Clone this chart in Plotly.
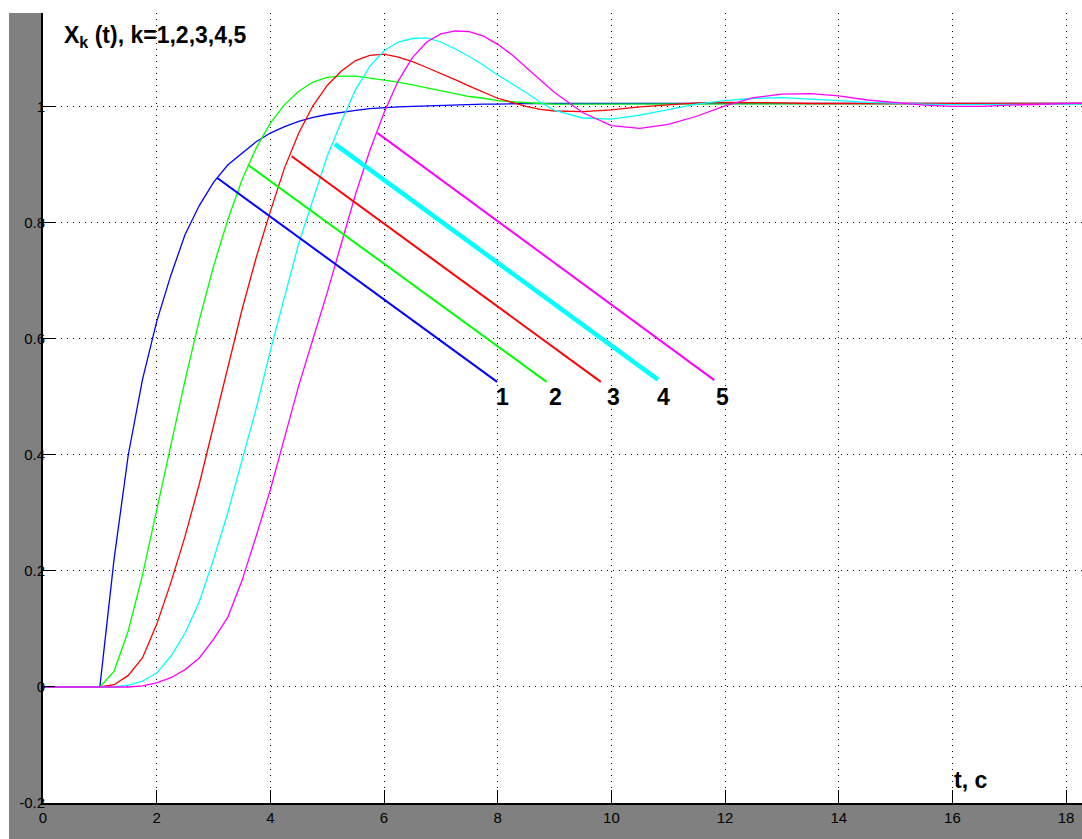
import plotly.graph_objects as go

# time samples shared by all five responses
t = [0, 1, 1.25, 1.5, 1.75, 2, 2.25, 2.5, 2.75, 3, 3.25, 3.5, 3.75, 4, 4.25, 4.5, 4.75,
     5, 5.25, 5.5, 5.75, 6, 6.25, 6.5, 6.75, 7, 7.25, 7.5, 7.75, 8, 8.25, 8.5, 8.75, 9,
     9.5, 10, 10.5, 11, 11.5, 12, 12.5, 13, 13.5, 14, 14.5, 15, 15.5, 16, 16.5, 17, 17.5, 18, 18.5]

x1 = [0, 0, 0.22, 0.40, 0.53, 0.63, 0.71, 0.78, 0.83, 0.87, 0.90, 0.92, 0.94, 0.955, 0.966, 0.975, 0.982,
      0.987, 0.991, 0.994, 0.997, 0.999, 1.000, 1.001, 1.002, 1.003, 1.004, 1.004, 1.005, 1.005, 1.006, 1.006, 1.006, 1.006,
      1.006, 1.006, 1.006, 1.006, 1.006, 1.006, 1.006, 1.006, 1.006, 1.006, 1.006, 1.006, 1.006, 1.006, 1.006, 1.006, 1.006, 1.006, 1.006]

x2 = [0, 0, 0.027, 0.097, 0.193, 0.303, 0.417, 0.529, 0.633, 0.725, 0.805, 0.874, 0.929, 0.972, 1.004, 1.027, 1.043,
      1.051, 1.053, 1.053, 1.050, 1.047, 1.043, 1.038, 1.033, 1.028, 1.023, 1.018, 1.015, 1.011, 1.009, 1.007, 1.006, 1.005,
      1.005, 1.005, 1.006, 1.006, 1.006, 1.006, 1.006, 1.006, 1.006, 1.006, 1.006, 1.006, 1.006, 1.006, 1.006, 1.006, 1.006, 1.006, 1.006]

x3 = [0, 0, 0.004, 0.02, 0.05, 0.108, 0.18, 0.26, 0.35, 0.45, 0.555, 0.65, 0.74, 0.82, 0.895, 0.955, 1.002,
      1.037, 1.062, 1.080, 1.089, 1.091, 1.086, 1.078, 1.068, 1.058, 1.047, 1.036, 1.025, 1.015, 1.008, 1.001, 0.996, 0.993,
      0.992, 0.995, 1.000, 1.004, 1.007, 1.008, 1.008, 1.007, 1.006, 1.006, 1.006, 1.006, 1.006, 1.006, 1.006, 1.006, 1.006, 1.006, 1.006]

x4 = [0, 0, 0, 0.003, 0.01, 0.024, 0.053, 0.093, 0.147, 0.22, 0.30, 0.39, 0.48, 0.58, 0.675, 0.765, 0.84,
      0.915, 0.975, 1.03, 1.07, 1.097, 1.112, 1.118, 1.119, 1.112, 1.100, 1.087, 1.072, 1.055, 1.040, 1.025, 1.008, 0.994,
      0.981, 0.979, 0.986, 0.996, 1.005, 1.011, 1.015, 1.016, 1.014, 1.011, 1.008, 1.006, 1.005, 1.004, 1.004, 1.005, 1.005, 1.005, 1.005]

x5 = [0, 0, 0, 0, 0.002, 0.007, 0.016, 0.03, 0.05, 0.082, 0.12, 0.183, 0.26, 0.34, 0.43, 0.52, 0.60,
      0.68, 0.765, 0.85, 0.925, 0.99, 1.045, 1.085, 1.112, 1.126, 1.131, 1.130, 1.122, 1.108, 1.090, 1.068, 1.047, 1.025,
      0.990, 0.968, 0.963, 0.970, 0.984, 1.002, 1.016, 1.022, 1.023, 1.019, 1.012, 1.007, 1.003, 1.001, 1.001, 1.003, 1.005, 1.006, 1.007]

series = [x1, x2, x3, x4, x5]
colors = ["#0000ff", "#00ff00", "#ff0000", "#00ffff", "#ff00ff"]
names = ["1", "2", "3", "4", "5"]

# pointer lines from each curve to its number
lead_x0 = [3.06, 3.61, 4.375, 5.136, 5.887]
lead_y0 = [0.878, 0.900, 0.915, 0.936, 0.955]
lead_x1 = [7.99, 8.86, 9.815, 10.82, 11.81]
lead_y1 = [0.526, 0.526, 0.526, 0.530, 0.529]
lead_w = [2, 2, 2, 4.5, 2]

label_x = [8.09, 9.02, 10.03, 10.92, 11.96]
label_y = [0.50, 0.50, 0.50, 0.50, 0.50]

x_ticks = [0, 2, 4, 6, 8, 10, 12, 14, 16, 18]
y_ticks = [-0.2, 0, 0.2, 0.4, 0.6, 0.8, 1]
y_tick_text = ["-0.2", "0", "0.2", "0.4", "0.6", "0.8", "1"]

X_RANGE = [0, 18.28]
Y_RANGE = [-0.2, 1.162]

FONT = "Liberation Sans, Arial, Helvetica, sans-serif"
TICKFONT = dict(family=FONT, size=15, color="black")

fig = go.Figure()
for ys, c, n in zip(series, colors, names):
    fig.add_trace(go.Scatter(x=t, y=ys, mode="lines", line=dict(color=c, width=1.3),
                             name=n, hoverinfo="skip"))

for i in range(5):
    fig.add_trace(go.Scatter(x=[lead_x0[i], lead_x1[i]], y=[lead_y0[i], lead_y1[i]], mode="lines",
                             line=dict(color=colors[i], width=lead_w[i]), hoverinfo="skip"))

# empty trace that carries the label-only y axis
fig.add_trace(go.Scatter(x=[None], y=[None], yaxis="y2", mode="lines", hoverinfo="skip"))

for i in range(5):
    fig.add_annotation(x=label_x[i], y=label_y[i], text=names[i], showarrow=False,
                       xanchor="center", yanchor="middle",
                       font=dict(family=FONT, size=23, color="black", weight="bold"))

fig.add_annotation(x=0.33, y=1.121, text="X<sub>k</sub> (t), k=1,2,3,4,5", showarrow=False,
                   xanchor="left", yanchor="middle",
                   font=dict(family=FONT, size=23, color="black", weight="bold"))
fig.add_annotation(x=16.32, y=-0.160, text="t, c", showarrow=False,
                   xanchor="center", yanchor="middle",
                   font=dict(family=FONT, size=23, color="black", weight="bold"))

axis_common = dict(showline=True, linecolor="black", linewidth=1.5, mirror=False,
                   ticks="inside", tickcolor="black", tickwidth=1,
                   showgrid=True, gridcolor="black", gridwidth=1, griddash="1px,5px",
                   zeroline=False, tickfont=TICKFONT)

fig.update_layout(
    xaxis=dict(range=X_RANGE, tickvals=x_ticks, ticklen=13, **axis_common),
    yaxis=dict(range=Y_RANGE, tickvals=y_ticks, ticklen=12, showticklabels=False, **axis_common),
    # y tick labels sit close to the axis line
    yaxis2=dict(range=Y_RANGE, overlaying="y", anchor="free", position=0.002, side="left",
                tickvals=y_ticks, ticktext=y_tick_text, ticks="", showline=False,
                showgrid=False, zeroline=False, tickfont=TICKFONT),
)

# white border strips along the top and left edges of the gray figure area
fig.add_shape(type="rect", xref="paper", yref="paper", x0=-0.05, x1=-0.0327, y0=-0.1, y1=1.1,
              fillcolor="white", line_width=0, layer="above")
fig.add_shape(type="rect", xref="paper", yref="paper", x0=-0.05, x1=1.05, y0=1.0, y1=1.1,
              fillcolor="white", line_width=0, layer="above")

fig.update_layout(width=1082, height=839, margin=dict(l=43, r=0, t=13, b=36, pad=0),
                  paper_bgcolor="#808080", plot_bgcolor="white", showlegend=False)

fig.write_html("out.html")
